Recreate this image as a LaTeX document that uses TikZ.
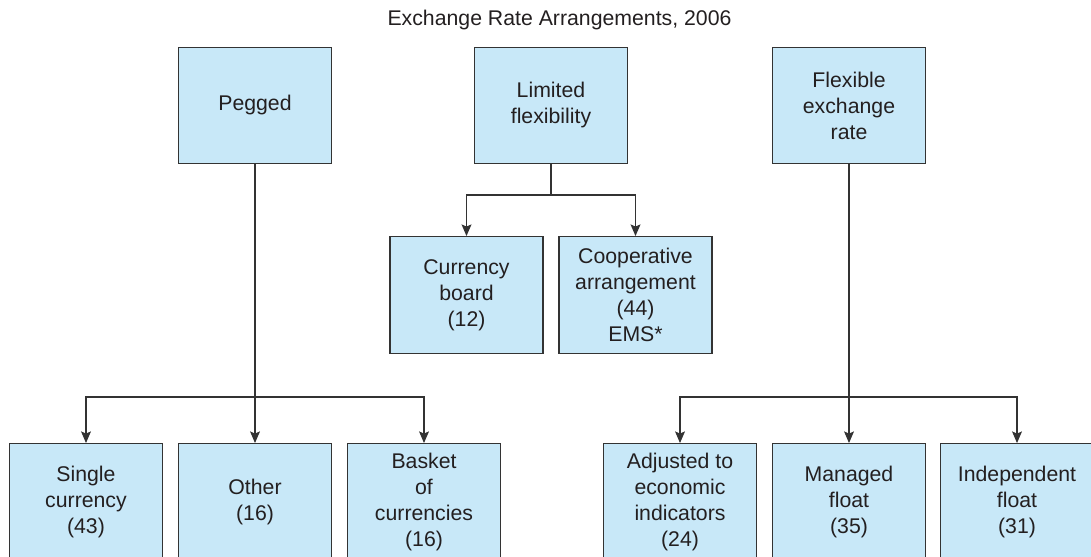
\documentclass[tikz,border=0pt]{standalone}
\usepackage{fontspec}
\setmainfont{Liberation Sans}
\usetikzlibrary{arrows.meta}
\definecolor{boxfill}{HTML}{C8E8F8}
\definecolor{boxline}{HTML}{333333}
\definecolor{textink}{HTML}{231F20}

\begin{document}
\begin{tikzpicture}[x=0.02cm, y=-0.02cm,
                    >={Stealth[length=6.6pt, width=5.6pt, inset=1.2pt]},
                    every node/.style={textink, font=\fontsize{12.1}{14.8}\selectfont},
                    chartbox/.style={draw=boxline, fill=boxfill, line width=0.8pt,
                                     minimum width=3.06cm, minimum height=2.33cm,
                                     align=center, inner sep=0pt},
                    link/.style={boxline, line width=0.75pt}]

  %% page frame
  \useasboundingbox (0,0) rectangle (1091,557);
  \clip (0,0) rectangle (1091,557);

  %% title
  \node (title) at (559.5,20) {Exchange Rate Arrangements, 2006};

  %% top row
  \node[chartbox] (peg) at (255,105.5) {Pegged};
  \node[chartbox] (lim) at (551,105.5) {Limited\\flexibility};
  \node[chartbox] (flex) at (849,105.5) {Flexible\\exchange\\rate};

  %% middle row
  \node[chartbox] (board) at (466.5,295) {Currency\\board\\(12)};
  \node[chartbox] (coop) at (635.5,295) {Cooperative\\arrangement\\(44)\\EMS*};

  %% bottom row
  \node[chartbox] (single) at (86,502) {Single\\currency\\(43)};
  \node[chartbox] (other) at (255,502) {Other\\(16)};
  \node[chartbox] (basket) at (424,502) {Basket\\of\\currencies\\(16)};
  \node[chartbox] (adj) at (680,502) {Adjusted to\\economic\\indicators\\(24)};
  \node[chartbox] (managed) at (849,502) {Managed\\float\\(35)};
  \node[chartbox] (indep) at (1017,502) {Independent\\float\\(31)};

  %% branch points
  \coordinate (limjoin) at (551,195);
  \coordinate (pegjoin) at (255,397);
  \coordinate (flexjoin) at (849,397);

  %% connectors
  \draw[link] (lim.south) -- (limjoin);
  \draw[link, ->] (limjoin) -| (board.north);
  \draw[link, ->] (limjoin) -| (coop.north);

  \draw[link, ->] (peg.south) -- (other.north);
  \draw[link, ->] (pegjoin) -| (single.north);
  \draw[link, ->] (pegjoin) -| (basket.north);

  \draw[link, ->] (flex.south) -- (managed.north);
  \draw[link, ->] (flexjoin) -| (adj.north);
  \draw[link, ->] (flexjoin) -| (indep.north);

\end{tikzpicture}
\end{document}
